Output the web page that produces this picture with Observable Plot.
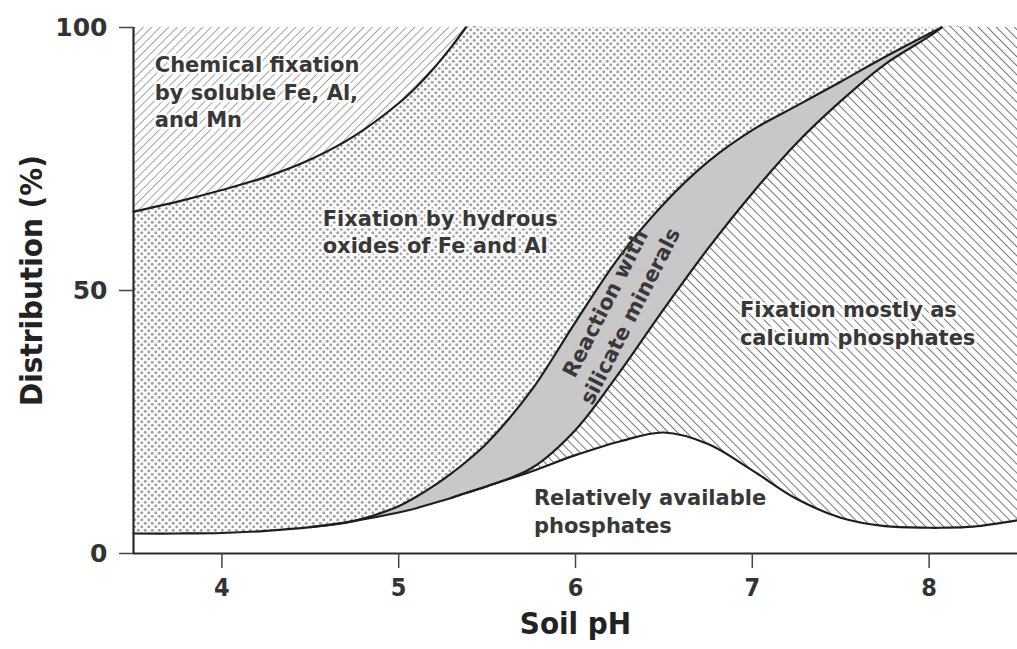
<!DOCTYPE html>
<html>
<head>
<meta charset="utf-8">
<script src="https://cdn.jsdelivr.net/npm/d3@7"></script>
<script src="https://cdn.jsdelivr.net/npm/@observablehq/plot@0.6"></script>
<style>
  html, body { margin: 0; padding: 0; background: #fff; }
  #chart svg { display: block; }
</style>
</head>
<body>
<div id="chart"></div>
<script>
// Soil pH sample points (common grid for all boundary curves)
const pH = [3.5, 3.75, 4.0, 4.25, 4.5, 4.75, 5.0, 5.1, 5.2, 5.3, 5.38, 5.5, 5.75, 6.0, 6.25, 6.5, 6.75, 7.0, 7.25, 7.5, 7.75, 8.0, 8.07, 8.25, 8.5];
// Upper edge of "Relatively available phosphates" (%)
const availableTop = [3.8, 3.8, 3.9, 4.3, 5.0, 6.2, 7.8, 8.6, 9.6, 10.6, 11.5, 12.8, 15.6, 18.7, 21.3, 23.0, 20.8, 15.8, 10.4, 6.8, 5.2, 4.9, 4.9, 5.1, 6.3];
// Upper edge of "Fixation mostly as calcium phosphates" (%)
const calciumTop = [3.8, 3.8, 3.9, 4.3, 5.0, 6.2, 7.8, 8.6, 9.6, 10.6, 11.5, 12.8, 16.2, 23.5, 34.5, 46.5, 58.0, 68.5, 78.0, 86.0, 93.0, 98.3, 100, 100, 100];
// Upper edge of "Reaction with silicate minerals" (%)
const silicateTop = [3.8, 3.8, 3.9, 4.3, 5.0, 6.2, 9.0, 10.8, 12.9, 15.3, 17.4, 21.0, 31.0, 44.0, 56.5, 66.5, 74.5, 80.5, 85.1, 89.7, 94.4, 98.8, 100, 100, 100];
// Upper edge of "Fixation by hydrous oxides of Fe and Al" (%)
const oxideTop = [65.0, 66.9, 69.1, 71.6, 74.9, 79.4, 85.6, 88.7, 92.3, 96.4, 100, 100, 100, 100, 100, 100, 100, 100, 100, 100, 100, 100, 100, 100, 100];

const xTicks = [4, 5, 6, 7, 8];
const yTicks = [0, 50, 100];
const regionLabels = [
  "Chemical fixation\nby soluble Fe, Al,\nand Mn",
  "Fixation by hydrous\noxides of Fe and Al",
  "Reaction with\nsilicate minerals",
  "Fixation mostly as\ncalcium phosphates",
  "Relatively available\nphosphates"
];
const xTitle = "Soil pH";
const yTitle = "Distribution (%)";

const rows = pH.map((p, i) => ({
  pH: p,
  A: availableTop[i],
  C: calciumTop[i],
  B: silicateTop[i],
  D: oxideTop[i]
}));

const curve = "catmull-rom";
const lineStyle = {stroke: "#1e1e1e", strokeWidth: 2.2, curve};
const labelFont = "DejaVu Sans";
const labelBase = {fontFamily: labelFont, fontSize: 21, fontWeight: "bold", fill: "#383838", lineHeight: 1.33};
const labelStyle = {...labelBase, stroke: "white", strokeWidth: 5, strokeOpacity: 0.75};
const narrow = "'Liberation Sans Narrow', 'DejaVu Sans Condensed', sans-serif";

const plot = Plot.plot({
  width: 1017,
  height: 649,
  marginLeft: 133,
  marginRight: 0,
  marginTop: 27,
  marginBottom: 96,
  x: {domain: [3.5, 8.5]},
  y: {domain: [0, 100]},
  marks: [
    // regions
    Plot.areaY(rows, {x: "pH", y1: "A", y2: "C", fill: "url(#hatchDown)", curve}),
    Plot.areaY(rows, {x: "pH", y1: "C", y2: "B", fill: "#c8c8c8", curve}),
    Plot.areaY(rows, {x: "pH", y1: "B", y2: "D", fill: "url(#dots)", curve}),
    Plot.areaY(rows, {filter: d => d.pH <= 5.38, x: "pH", y1: "D", y2: () => 100, fill: "url(#hatchUp)", curve}),
    // boundary lines
    Plot.lineY(rows, {x: "pH", y: "A", ...lineStyle}),
    Plot.lineY(rows, {filter: d => d.pH >= 4.5 && d.pH <= 8.07, x: "pH", y: "B", ...lineStyle}),
    Plot.lineY(rows, {filter: d => d.pH >= 5.3 && d.pH <= 8.07, x: "pH", y: "C", ...lineStyle}),
    Plot.lineY(rows, {filter: d => d.pH <= 5.38, x: "pH", y: "D", ...lineStyle}),
    // region labels
    Plot.text([regionLabels[0]], {x: 3.62, y: 88.0, text: d => d, textAnchor: "start", ...labelStyle}),
    Plot.text([regionLabels[1]], {x: 4.57, y: 61.4, text: d => d, textAnchor: "start", ...labelStyle}),
    Plot.text([regionLabels[2]], {x: 6.23, y: 46.5, text: d => d, textAnchor: "middle", rotate: -63, ...labelBase}),
    Plot.text([regionLabels[3]], {x: 6.93, y: 44.0, text: d => d, textAnchor: "start", ...labelStyle}),
    Plot.text([regionLabels[4]], {x: 5.765, y: 8.2, text: d => d, textAnchor: "start", ...labelStyle, strokeOpacity: 1}),
    // axes
    Plot.ruleX([3.5], {y1: 0, y2: 100, stroke: "#2a2a2a", strokeWidth: 2.2}),
    Plot.ruleY([0], {stroke: "#2a2a2a", strokeWidth: 2.2}),
    Plot.axisY({ticks: yTicks, tickSize: 14, tickPadding: 12, tickFormat: d => String(d), label: null, fontSize: 25, fontWeight: "bold", fontFamily: "DejaVu Sans", fill: "#333", stroke: "#444", strokeWidth: 1.5}),
    Plot.axisX({ticks: xTicks, tickSize: 15, tickPadding: 10, tickFormat: d => String(d), label: null, fontSize: 25, fontWeight: "bold", fontFamily: narrow, fill: "#333", stroke: "#444", strokeWidth: 1.5}),
    Plot.text([xTitle], {frameAnchor: "bottom", dy: 80, text: d => d, fontSize: 31, fontWeight: "bold", fontFamily: narrow, fill: "#222"}),
    Plot.text([yTitle], {frameAnchor: "left", dx: -101, dy: -10, rotate: -90, textAnchor: "middle", text: d => d, fontSize: 31, fontWeight: "bold", fontFamily: narrow, fill: "#222"})
  ]
});

plot.insertAdjacentHTML("afterbegin", `
<defs>
  <pattern id="hatchUp" patternUnits="userSpaceOnUse" width="6" height="6" patternTransform="rotate(45)">
    <rect width="6" height="6" fill="#fff"/>
    <line x1="0" y1="0" x2="0" y2="6" stroke="#858585" stroke-width="1.5"/>
  </pattern>
  <pattern id="hatchDown" patternUnits="userSpaceOnUse" width="6.4" height="6.4" patternTransform="rotate(-45)">
    <rect width="6.4" height="6.4" fill="#fff"/>
    <line x1="0" y1="0" x2="0" y2="6.4" stroke="#757575" stroke-width="2"/>
  </pattern>
  <pattern id="dots" patternUnits="userSpaceOnUse" width="7" height="7">
    <rect width="7" height="7" fill="#fff"/>
    <circle cx="1.75" cy="1.75" r="1.5" fill="#a2a2a2"/>
    <circle cx="5.25" cy="5.25" r="1.5" fill="#a2a2a2"/>
  </pattern>
</defs>`);

document.getElementById("chart").appendChild(plot);
</script>
</body>
</html>
